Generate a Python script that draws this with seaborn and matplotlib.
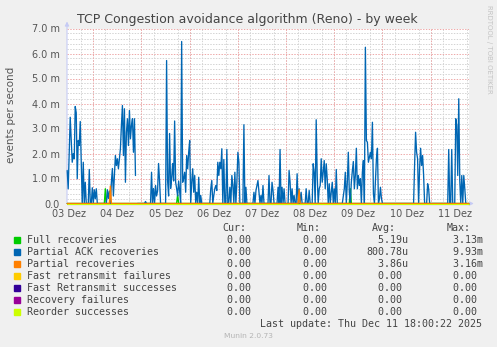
import numpy as np
import pandas as pd
import matplotlib
matplotlib.use("Agg")
import matplotlib.pyplot as plt
import seaborn as sns
from matplotlib.patches import Rectangle

sns.set_theme(style="white")
plt.rcParams['font.family'] = ['DejaVu Sans']

# ---------------- data (hours since 03 Dez 00:00, values in milli-events/s) ----
day_labels = ["03 Dez", "04 Dez", "05 Dez", "06 Dez", "07 Dez",
              "08 Dez", "09 Dez", "10 Dez", "11 Dez"]
label_hours = [12, 36, 60, 84, 108, 132, 156, 180, 204]

# Partial ACK recoveries
pack_hours = [
    11, 11.5, 12.5, 13.5, 14, 14.5, 15, 15.5, 16, 16.5, 17, 17.5, 18.5, 19, 19.5,
    20, 20.5, 21.5, 22, 22.5, 23, 23.5, 24, 24.5, 25, 25.5, 26,
    30.5, 31, 31.5, 32, 32.5, 33, 33.5, 34, 35, 35.5, 36, 36.5, 37.5, 38, 38.5,
    39, 39.5, 40, 40.5, 41, 41.5, 42, 42.5, 43, 43.5, 44, 44.5, 45, 45.5, 46,
    49.5, 50, 50.5, 52.5, 53, 53.5, 54, 54.5, 55, 55.5, 56, 56.5, 57, 57.5,
    60, 60.5, 61, 61.5, 62, 62.5, 63, 63.5, 64, 64.5, 65, 65.5, 66, 66.5, 67,
    67.5, 68, 68.5, 69, 69.5, 70, 70.5, 71, 71.5, 72, 72.5, 73, 73.5, 74, 74.5,
    75, 75.5, 76, 76.5, 77, 77.5, 78,
    82, 82.5, 83, 83.5, 84, 84.5, 85, 85.5, 86, 86.5, 87, 87.5, 88, 88.5, 89,
    89.5, 90, 90.5, 91, 91.5, 92, 92.5, 93, 93.5, 94, 94.5, 95, 95.5, 96, 96.5,
    97, 98.5, 99, 99.5, 100, 100.5, 103.5, 104, 104.5, 105, 105.5, 106, 106.5,
    107, 107.5, 108, 108.5, 109, 111, 111.5, 112, 112.5, 113, 113.5, 114,
    115.5, 116, 116.5, 117, 117.5, 118, 118.5, 119, 119.5, 121, 121.5, 122,
    122.5, 123, 123.5, 124, 124.5, 125, 125.5, 126, 126.5, 127, 127.5, 128,
    129.5, 130, 130.5, 131, 131.5, 132, 133, 133.5, 134, 134.5, 135, 135.5,
    136, 136.5, 137, 137.5, 138, 138.5, 139, 139.5, 140, 140.5, 141, 141.5,
    142, 142.5, 143, 143.5, 144, 144.5, 145, 145.5,
    148, 149, 149.5, 150, 150.5, 151, 151.5, 152, 152.5, 153, 153.5, 154,
    154.5, 155, 155.5, 156, 156.5, 157, 157.5, 158, 158.5, 159, 159.5, 160,
    160.5, 161, 161.5, 162, 162.5, 163, 163.5, 164, 164.5, 165, 165.5, 166,
    166.5, 167, 167.5, 168,
    183.5, 184, 184.5, 185, 185.5, 186, 186.5, 187, 187.5, 188, 188.5, 189,
    190, 190.5, 191, 191.5,
    200.5, 201, 201.5, 202, 202.5, 203, 204, 204.5, 205, 205.5, 206, 206.5,
    207, 207.5, 208, 208.5, 209, 209.5, 210]
pack_vals = [
    1.32, 0.59, 3.45, 1.65, 1.99, 1.79, 3.88, 3.63, 0.99, 2.52, 2.32, 3.28, 0, 1.65, 0,
    0.85, 0, 0, 1.36, 0, 0, 0.63, 0, 0.55, 0.19, 0.59, 0,
    0, 0.55, 0.2, 0.5, 0, 0.85, 1.4, 0.3, 1.92, 1.52, 1.79, 1.39, 2.19, 3.12, 3.92,
    1.92, 3.79, 0.85, 2.85, 3.39, 2.32, 3.72, 2.59, 3.12, 3.39, 2.05, 3.39, 1.12, np.nan, 0,
    0, 0.08, 0, 0, 1.25, 0, 0.6, 0, 0.72, 0.3, 0.5, 1.6, 0.9, 0,
    0, 5.72, 0.9, 0.3, 2.8, 0.6, 1.0, 1.6, 0.9, 3.3, 0.85, 0.6, 0.3, 0.9, 0.5,
    0, 6.48, 0.85, 1.0, 1.25, 0.45, 1.92, 1.39, 2.05, 2.52, 0, 0.85, 1.39, 0.45, 1.12,
    0, 0.45, 0, 1.05, 0, 0.32, 0,
    0, 0.59, 0.92, 0, 0.32, 0.59, 0.72, 0.52, 1.65, 1.12, 1.65, 1.39, 2.19, 0, 1.76,
    0, 0, 2.16, 0, 0.05, 0.65, 0, 1.12, 0.72, 0, 1.25, 0, 0.85, 2.05, 1.65,
    0, 0, 3.15, 0, 0.65, 0, 0, 0.45, 0, 0.52, 0.72, 0.92, 0.45,
    0, 0.32, 0, 0.72, 0, 0, 1.12, 0, 0, 0.85, 0.52, 0,
    0, 0.65, 0, 2.16, 0, 0.65, 0, 0.59, 0, 0, 1.32, 0.85,
    0, 0.59, 0, 0.32, 0, 0, 1.19, 0, 0.59, 0, 0.45, 0,
    0, 0.59, 0, 0, 0.52, 0, 0, 1.59, 1.25, 0, 3.35, 1.12,
    0, 0.59, 0.72, 1.79, 0.85, 1.25, 1.72, 0.59, 1.59, 0.99, 0, 0.79,
    0, 0.45, 0.85, 0, 0.59, 0, 1.36, 0,
    0, 0.59, 1.25, 0, 0.85, 2.05, 0.45, 0, 0.85, 1.3, 1.68, 0.59,
    1.12, 2.21, 0.59, 1.12, 0.72, 0.99, 0, 1.25, 1.72, 0, 6.25, 2.52,
    2.45, 1.65, 1.85, 2.05, 1.79, 3.25, 0.39, 0, 0.85, 1.79, 2.21, 0,
    0.19, 0.65, 0.19, 0,
    0, 1.52, 2.85, 2.05, 1.79, 0, 1.39, 2.21, 1.52, 1.92, 1.12, 0,
    0, 0.79, 0.59, 0,
    0, 2.16, 0, 0, 2.16, 0, 0, 3.39, 3.12, 1.12, 4.19, 0.92,
    0, 1.12, 0, 1.12, 0.59, 0, 0]

# Full recoveries
full_hours = [11, 29.5, 30, 30.5, 65.5, 66, 66.5, 151.5, 152, 152.5, 211]
full_vals = [0, 0, 0.59, 0, 0, 0.35, 0, 0, 0.59, 0, 0]

# Partial recoveries
part_hours = [11, 32, 32.5, 33, 126, 126.5, 127, 211]
part_vals = [0, 0, 0.7, 0, 0, 0.55, 0, 0]

# series that stay at zero the whole week
zero_hours = [11, 211]
fast_fail_vals = [0, 0]
fast_succ_vals = [0, 0]
rec_fail_vals = [0, 0]
reorder_vals = [0, 0]

legend_names = ["Full recoveries", "Partial ACK recoveries", "Partial recoveries",
                "Fast retransmit failures", "Fast Retransmit successes",
                "Recovery failures", "Reorder successes"]
legend_colors = ["#00cc00", "#0066b3", "#ff8000", "#ffcc00", "#330099",
                 "#990099", "#ccff00"]
cur_col = ["0.00", "0.00", "0.00", "0.00", "0.00", "0.00", "0.00"]
min_col = ["0.00", "0.00", "0.00", "0.00", "0.00", "0.00", "0.00"]
avg_col = ["5.19u", "800.78u", "3.86u", "0.00", "0.00", "0.00", "0.00"]
max_col = ["3.13m", "9.93m", "3.16m", "0.00", "0.00", "0.00", "0.00"]

# ---------------- figure ----------------
W, H = 497, 347
fx = lambda x: x / W
fy = lambda y: 1 - y / H

fig = plt.figure(figsize=(W / 100, H / 100), dpi=100, facecolor="#f0f0f0")
# plot area: value 0 on pixel row 203, 7.0 on row 28 (pixel centres)
ax = fig.add_axes([fx(67), fy(203.5), (469 - 67) / W, (203.5 - 28.5) / H])
ax.set_facecolor("white")

XMIN, XMAX = 10.9, 211.1
ax.set_xlim(XMIN, XMAX)
ax.set_ylim(0, 7.0)

# grid
GRID_DASH = (0, (1.4, 1.4))
minor_x = np.arange(12, 211, 6)
ax.set_xticks(minor_x, minor=True)
ax.set_yticks(np.arange(0, 7.01, 0.2), minor=True)
ax.set_yticks(np.arange(0, 7.01, 1.0))
ax.grid(which="minor", axis="both", color="#d4d4d4", linestyle=GRID_DASH, lw=0.72)
ax.grid(which="major", axis="y", color="#eeaaaa", linestyle=GRID_DASH, lw=0.72)
ax.grid(which="major", axis="x", visible=False)
for d in range(24, 211, 24):
    ax.axvline(d, color="#eeaaaa", linestyle=GRID_DASH, lw=0.72, zorder=0.6)
ax.set_axisbelow(True)

# series, in Munin draw order
df_full = pd.DataFrame({"h": full_hours, "v": full_vals})
df_pack = pd.DataFrame({"h": pack_hours, "v": pack_vals})
df_pack["seg"] = df_pack["v"].isna().cumsum()
df_pack = df_pack.dropna()
df_part = pd.DataFrame({"h": part_hours, "v": part_vals})

n_before = len(ax.lines)
sns.lineplot(data=df_full, x="h", y="v", color=legend_colors[0], lw=1.0, ax=ax,
             estimator=None, sort=False)
sns.lineplot(data=df_pack, x="h", y="v", units="seg", color=legend_colors[1], lw=0.95,
             ax=ax, estimator=None, sort=False)
sns.lineplot(data=df_part, x="h", y="v", color=legend_colors[2], lw=1.0, ax=ax,
             estimator=None, sort=False)
for vals, col in zip([fast_fail_vals, fast_succ_vals, rec_fail_vals, reorder_vals],
                     legend_colors[3:]):
    sns.lineplot(x=zero_hours, y=vals, color=col, lw=0.75, ax=ax, estimator=None)
for ln in ax.lines[n_before:]:
    ln.set_clip_on(False)
    ln.set_zorder(3)

# ticks
ax.set_xticks(label_hours)
ax.set_xticklabels(day_labels)
ax.set_yticklabels(["0.0"] + [f"{v:.1f} m" for v in np.arange(1, 7.01, 1.0)])
ax.tick_params(axis="both", which="both", length=0, labelsize=7, labelcolor="#555555")
ax.tick_params(axis="y", pad=5)
ax.tick_params(axis="x", pad=4)
ax.set_xlabel("")
ax.set_ylabel("")
for s in ax.spines.values():
    s.set_visible(False)

# axis arrows
axis_col = "#c6cbf5"
ax.annotate("", xy=(0, 1.04), xytext=(0, 0), xycoords="axes fraction",
            arrowprops=dict(arrowstyle="-|>", color=axis_col, lw=0.8, mutation_scale=6,
                            shrinkA=0, shrinkB=0), annotation_clip=False, zorder=1)
ax.annotate("", xy=(1.012, 0), xytext=(0, 0), xycoords="axes fraction",
            arrowprops=dict(arrowstyle="-|>", color=axis_col, lw=0.8, mutation_scale=6,
                            shrinkA=0, shrinkB=0), annotation_clip=False, zorder=1)

# title / labels
fig.text(fx(247.5), fy(19), "TCP Congestion avoidance algorithm (Reno) - by week",
         ha="center", va="center", fontsize=9.0, color="#444444")
fig.text(fx(11), fy(115), "events per second", rotation=90, ha="center", va="center",
         fontsize=7.5, color="#555555")
fig.text(fx(489), fy(5), "RRDTOOL / TOBI OETIKER", rotation=270, ha="center", va="top",
         fontsize=5, color="#c4c4c4")

# legend table
mono = dict(family="DejaVu Sans Mono", fontsize=7.2, color="#444444", va="center")
for x_r, head in zip([246, 321, 396, 471], ["Cur:", "Min:", "Avg:", "Max:"]):
    fig.text(fx(x_r), fy(228), head, ha="right", **mono)
col_right = [256.7, 332.7, 408.3, 483.3]
for i, name in enumerate(legend_names):
    yc = 239.7 + 12 * i
    fig.patches.append(Rectangle((fx(14), fy(yc + 2.8)), 5.6 / W, 5.6 / H,
                                 transform=fig.transFigure, color=legend_colors[i],
                                 figure=fig))
    fig.text(fx(26.7), fy(yc), name, ha="left", **mono)
    for xr, col in zip(col_right, [cur_col, min_col, avg_col, max_col]):
        s = col[i] if col[i][-1].isalpha() else col[i] + " "
        fig.text(fx(xr - 42), fy(yc), s.rjust(7), ha="left", **mono)

fig.text(fx(482.5), fy(324), "Last update: Thu Dec 11 18:00:22 2025", ha="right", **mono)
fig.text(fx(248), fy(335.5), "Munin 2.0.73", ha="center", va="center", fontsize=5.4,
         color="#b4b4b4")

fig.savefig("out.png", dpi=100, facecolor=fig.get_facecolor())
